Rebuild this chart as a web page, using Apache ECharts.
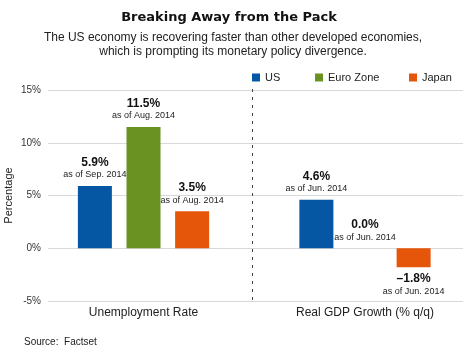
<!DOCTYPE html>
<html>
<head>
<meta charset="utf-8">
<script src="https://cdn.jsdelivr.net/npm/echarts@6/dist/echarts.min.js"></script>
<style>html,body{margin:0;padding:0;background:#fff}#c{width:470px;height:360px}</style>
</head>
<body>
<div id="c"></div>
<script>
var categories = ['Unemployment Rate', 'Real GDP Growth (% q/q)'];
var seriesNames = ['US', 'Euro Zone', 'Japan'];
var usValues = [5.9, 4.6];
var euroValues = [11.5, 0.0];
var japanValues = [3.5, -1.8];
var usAsOf = ['as of Sep. 2014', 'as of Jun. 2014'];
var euroAsOf = ['as of Aug. 2014', 'as of Jun. 2014'];
var japanAsOf = ['as of Aug. 2014', 'as of Jun. 2014'];
var yTicks = [-5, 0, 5, 10, 15];

var colors = ['#0556A3', '#6A9223', '#E5550A'];
var FONT = 'Liberation Sans, Arial, sans-serif';

function fmt(v) {
  var s = Math.abs(v).toFixed(1) + '%';
  return v < 0 ? '\u2013' + s : s;
}
function makeData(vals, asOf) {
  return vals.map(function (v, i) {
    return {
      value: v,
      asOf: asOf[i],
      label: { position: v < 0 ? 'bottom' : 'top' }
    };
  });
}
function makeSeries(name, vals, asOf, color) {
  return {
    name: name,
    type: 'bar',
    xAxisIndex: 1,
    yAxisIndex: 1,
    barWidth: 34,
    barGap: '43%',
    itemStyle: { color: color },
    label: {
      show: true,
      distance: 5,
      formatter: function (p) {
        return '{b|' + fmt(p.value) + '}\n{s|' + p.data.asOf + '}';
      },
      rich: {
        b: { fontFamily: FONT, fontSize: 12, fontWeight: 'bold', color: '#111', lineHeight: 13, align: 'center' },
        s: { fontFamily: FONT, fontSize: 9, color: '#222', lineHeight: 12, align: 'center' }
      }
    },
    data: makeData(vals, asOf)
  };
}

var chart = echarts.init(document.getElementById('c'));
var legendLefts = [252, 315, 409];
var option = {
  animation: false,
  backgroundColor: '#fff',
  title: [
    { text: 'Breaking Away from the Pack', left: 229, textAlign: 'center', top: 10, padding: 0,
      textStyle: { fontFamily: 'DejaVu Sans', fontSize: 13, fontWeight: 'bold', color: '#111', lineHeight: 16 } },
    { text: 'The US economy is recovering faster than other developed economies,\nwhich is prompting its monetary policy divergence.',
      left: 233, textAlign: 'center', top: 30, padding: 0,
      textStyle: { fontFamily: FONT, fontSize: 12, fontWeight: 'normal', color: '#222', lineHeight: 14.4 } },
    { text: 'Source:  Factset', left: 24, top: 336, padding: 0,
      textStyle: { fontFamily: FONT, fontSize: 10, fontWeight: 'normal', color: '#222', lineHeight: 12 } }
  ],
  legend: seriesNames.map(function (n, i) {
    return { data: [n], left: legendLefts[i], top: 72, padding: 0, itemWidth: 8, itemHeight: 8, itemGap: 0,
      icon: 'rect', textStyle: { fontFamily: FONT, fontSize: 11, color: '#222' } };
  }),
  grid: [
    { left: 48, right: 7, top: 90, bottom: 59, containLabel: false, outerBoundsMode: 'none' },
    { left: 32.75, width: 443, top: 90, bottom: 59, containLabel: false, outerBoundsMode: 'none' }
  ],
  xAxis: [
    { type: 'category', gridIndex: 0, data: categories, show: false },
    { type: 'category', gridIndex: 1, data: categories,
      axisLine: { show: false, onZero: false }, axisTick: { show: false },
      axisLabel: { margin: 6, fontFamily: FONT, fontSize: 12, color: '#222' } }
  ],
  yAxis: [
    { type: 'value', gridIndex: 0, min: yTicks[0], max: yTicks[yTicks.length - 1], interval: 5,
      name: 'Percentage', nameLocation: 'middle', nameGap: 34, nameMoveOverlap: false,
      nameTextStyle: { fontFamily: FONT, fontSize: 11, color: '#222' },
      axisLine: { show: false }, axisTick: { show: false },
      axisLabel: { margin: 7, fontFamily: FONT, fontSize: 10, color: '#333', formatter: '{value}%' },
      splitLine: { lineStyle: { color: '#d9d9d9', width: 1 } } },
    { type: 'value', gridIndex: 1, min: yTicks[0], max: yTicks[yTicks.length - 1], interval: 5, show: false,
      splitLine: { show: false } }
  ],
  series: [
    makeSeries(seriesNames[0], usValues, usAsOf, colors[0]),
    makeSeries(seriesNames[1], euroValues, euroAsOf, colors[1]),
    makeSeries(seriesNames[2], japanValues, japanAsOf, colors[2])
  ]
};
chart.setOption(option);

// dashed divider at the boundary between the two categories
var c0 = chart.convertToPixel({ xAxisIndex: 1, yAxisIndex: 1 }, [0, yTicks[yTicks.length - 1]]);
var c1 = chart.convertToPixel({ xAxisIndex: 1, yAxisIndex: 1 }, [1, yTicks[0]]);
var xMid = Math.round((c0[0] + c1[0]) / 2) - 1.5;
chart.setOption({
  graphic: [{
    type: 'line', silent: true, z: 10,
    shape: { x1: xMid, y1: c0[1] - 1, x2: xMid, y2: c1[1] + 1 },
    style: { stroke: '#444', lineWidth: 1, lineDash: [3, 5] }
  }]
});
</script>
</body>
</html>
